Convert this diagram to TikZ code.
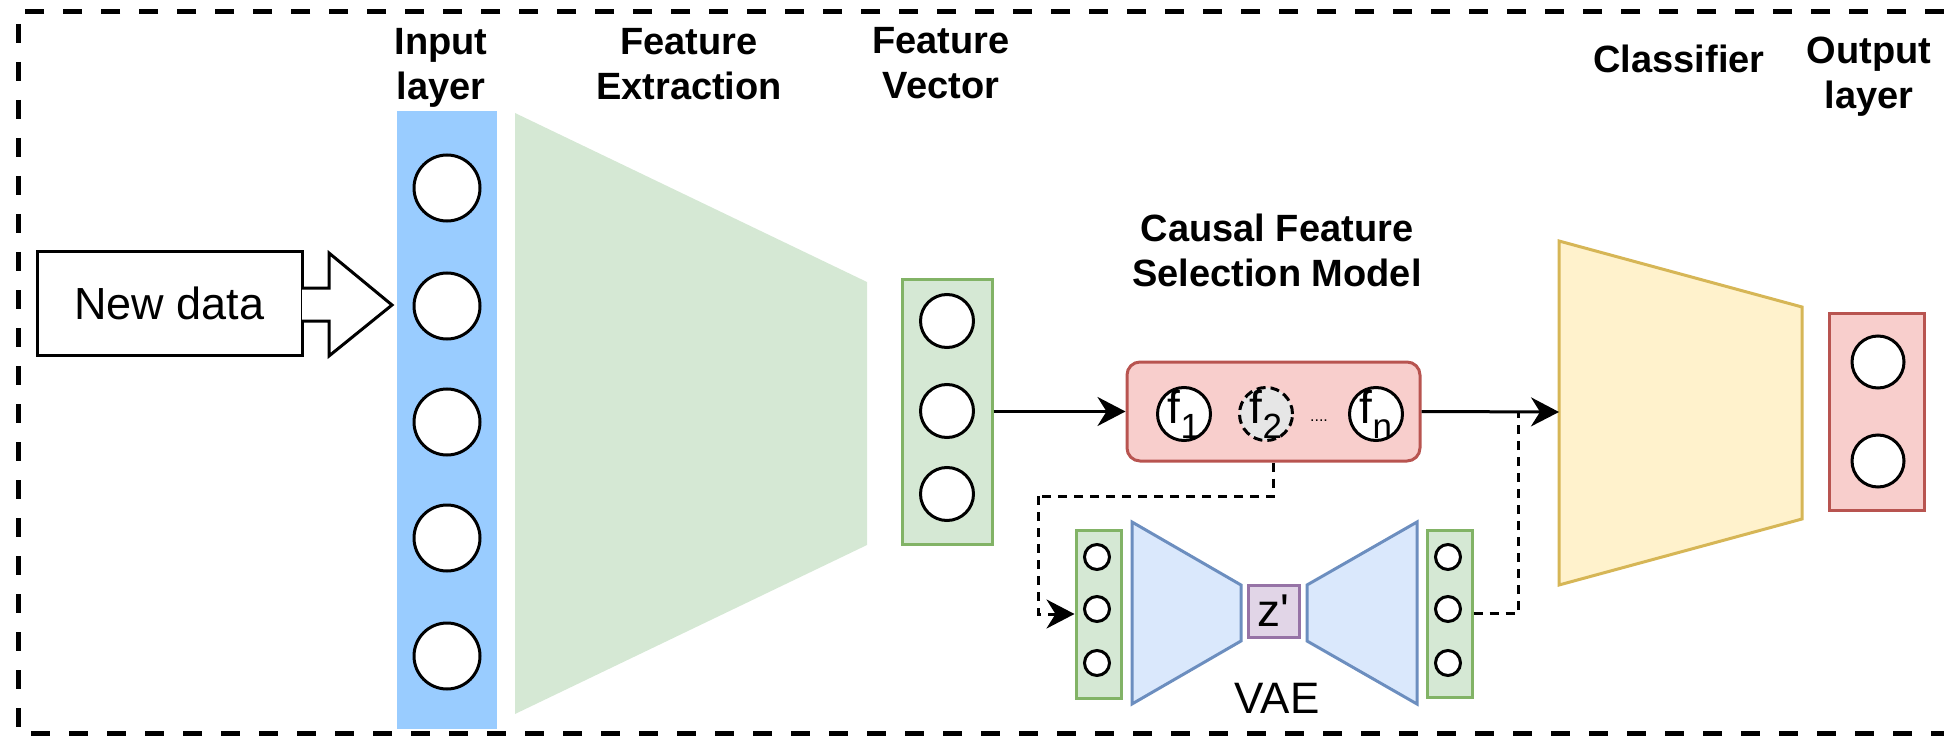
\documentclass[tikz,border=0pt]{standalone}
\usepackage{fontspec}
\setmainfont{Liberation Sans}
\usetikzlibrary{arrows.meta,calc}
\definecolor{inputblue}{HTML}{99CCFF}
\definecolor{greenfill}{HTML}{D5E8D4}
\definecolor{greenline}{HTML}{82B366}
\definecolor{redfill}{HTML}{F8CECC}
\definecolor{redline}{HTML}{B85450}
\definecolor{yellowfill}{HTML}{FFF2CC}
\definecolor{yellowline}{HTML}{D6B656}
\definecolor{bluefill}{HTML}{DAE8FC}
\definecolor{blueline}{HTML}{6C8EBF}
\definecolor{purplefill}{HTML}{E1D5E7}
\definecolor{purpleline}{HTML}{9673A6}
\definecolor{grayfill}{HTML}{E6E6E6}
\newcommand\fsubtext[1]{f\raisebox{-15pt}{\fontsize{35}{35}\selectfont #1}}
\newcommand\straightquote{\XeTeXglyph\the\XeTeXcharglyph"27\relax}
\begin{document}
\begin{tikzpicture}[x=1pt,y=-1pt,
  lbl/.style={font=\bfseries\fontsize{38}{45}\selectfont, align=center, inner sep=0pt},
  neuron/.style={circle, draw, line width=3pt, fill=white, minimum size=#1, inner sep=0pt},
  greenbox/.style={draw=greenline, fill=greenfill, line width=3pt, inner sep=0pt},
  fcirc/.style={circle, draw, line width=3pt, fill=white, minimum size=53pt, inner sep=0pt},
  ftext/.style={font=\fontsize{46}{46}\selectfont, inner sep=0pt},
  conn/.style={line width=3pt, -{Stealth[length=28pt,width=29pt,inset=9pt]}},
  dconn/.style={line width=3pt, dash pattern=on 9pt off 7pt},
  border/.style={line width=5pt, dash pattern=on 19pt off 19pt},
  trap/.style={line width=3pt, line join=miter}
]
\useasboundingbox (0,0) rectangle (1944,738);

% outer dashed frame (open on the right)
\draw[border] (1944,12) -- (18,12) -- (18,733) -- (1944,733);

% New data box and block arrow
\node[draw, line width=3pt, fill=white, minimum width=265pt, minimum height=103pt, inner sep=0pt,
      font=\fontsize{45}{45}\selectfont] (nd) at (169.5,303.5) {New data};
\draw[line width=3pt, fill=white, line join=miter]
  (302,288) -- (329,288) -- (329,253) -- (392,305) -- (329,356) -- (329,321) -- (302,321);

% Input layer
\node[fill=inputblue, minimum width=100pt, minimum height=618pt, inner sep=0pt] (inl) at (447,420) {};
\foreach \k/\yy in {1/188,2/306,3/422,4/538,5/656}
  \node[neuron=66pt] (i\k) at (447,\yy) {};

% Feature extraction trapezoid
\fill[greenfill] (515,113) -- (867,282) -- (867,545) -- (515,714) -- cycle;

% Feature vector
\node[greenbox, minimum width=90pt, minimum height=265pt] (fv) at (947,411.5) {};
\foreach \k/\yy in {1/321,2/411,3/494}
  \node[neuron=53pt] (v\k) at (947,\yy) {};

% Causal feature selection model
\node[draw=redline, fill=redfill, line width=3pt, rounded corners=13pt,
      minimum width=293pt, minimum height=99pt, inner sep=0pt] (cfs) at (1273.5,411.5) {};
\node[fcirc, label={[ftext]center:\fsubtext{1}}] (f1) at (1184,414) {};
\node[fcirc, fill=grayfill, dash pattern=on 9pt off 5pt, label={[ftext]center:\fsubtext{2}}] (f2) at (1266,414) {};
\node[fcirc, label={[ftext]center:\fsubtext{n}}] (fn) at (1376,414) {};
\node[font=\fontsize{16}{16}\selectfont, inner sep=0pt] (dots) at (1319,421) {....};

% Classifier trapezoid
\draw[trap, draw=yellowline, fill=yellowfill] (1559,241) -- (1802,307) -- (1802,519) -- (1559,585) -- cycle;
\coordinate (clsin) at (1559,412);

% Output layer
\node[draw=redline, fill=redfill, line width=3pt, minimum width=95pt, minimum height=197pt, inner sep=0pt] (out) at (1876.5,411.5) {};
\node[neuron=52pt] (o1) at (1878,362) {};
\node[neuron=52pt] (o2) at (1878,461) {};

% VAE
\node[greenbox, minimum width=45pt, minimum height=168pt] (vin) at (1098.5,614) {};
\foreach \k/\yy in {1/557,2/609,3/663}
  \node[neuron=25pt] (vi\k) at (1097,\yy) {};
\draw[trap, draw=blueline, fill=bluefill] (1132,522) -- (1241,585) -- (1241,641) -- (1132,704) -- cycle;
\node[draw=purpleline, fill=purplefill, line width=3pt, minimum width=51pt, minimum height=52pt,
      inner sep=0pt, font=\fontsize{46}{46}\selectfont] (z) at (1273.5,611) {z\straightquote};
\draw[trap, draw=blueline, fill=bluefill] (1307,585) -- (1417,522) -- (1417,704) -- (1307,641) -- cycle;
\node[greenbox, minimum width=45pt, minimum height=167pt] (vout) at (1449.5,613.5) {};
\foreach \k/\yy in {1/557,2/609,3/663}
  \node[neuron=25pt] (vo\k) at (1448,\yy) {};
\node[font=\fontsize{44}{44}\selectfont, inner sep=0pt] (vae) at (1277,698) {VAE};

% connectors
\coordinate (bend) at (1038,496);
\coordinate (join) at (1518,412);
\draw[conn] (fv.east) -- (cfs.west);
\draw[conn] (cfs.east) -- (clsin);
\draw[dconn] (cfs.south) |- (bend);
\draw[dconn, -{Stealth[length=28pt,width=29pt,inset=9pt]}] (bend) |- (vin.west);
\draw[dconn] (vout.east) -| (join);

% titles
\node[lbl] (lin) at (441,68) {Input\\layer};
\node[lbl] (lfe) at (689,64) {Feature\\Extraction};
\node[lbl] (lfv) at (941,63) {Feature\\Vector};
\node[lbl] (lcfs) at (1277,250) {Causal Feature\\Selection Model};
\node[lbl] (lcls) at (1679,59) {Classifier};
\node[lbl] (lout) at (1869,77) {Output\\layer};
\end{tikzpicture}
\end{document}
